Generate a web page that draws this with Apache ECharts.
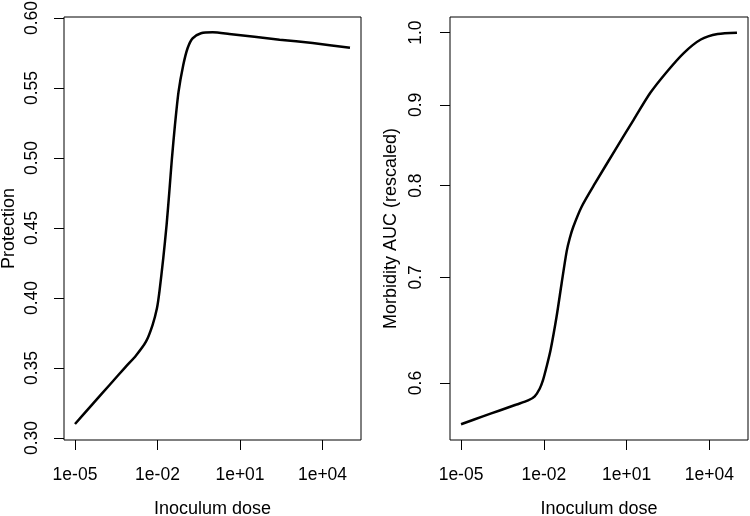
<!DOCTYPE html>
<html>
<head>
<meta charset="utf-8">
<script src="https://cdn.jsdelivr.net/npm/echarts@6/dist/echarts.min.js"></script>
<style>html,body{margin:0;padding:0;background:#fff}#c{width:750px;height:516px}</style>
</head>
<body>
<div id="c"></div>
<script>
// log10 of inoculum dose, left panel
const leftLogDose = [-5.0,-4.37,-3.76,-3.15,-2.787,-2.42,-2.18,-2.02,-1.93,-1.79,-1.67,-1.57,-1.475,-1.365,-1.234,-1.063,-0.906,-0.724,-0.418,0.005,0.61,2.44,3.64,5.0];
const protection = [0.310,0.324,0.3375,0.351,0.3588,0.3688,0.3807,0.3926,0.4045,0.4284,0.4521,0.4759,0.4998,0.5236,0.5474,0.5664,0.5784,0.5855,0.5891,0.5898,0.5886,0.5845,0.5821,0.5788];
// log10 of inoculum dose, right panel
const rightLogDose = [-5.0,-4.21,-3.6,-2.99,-2.57,-2.33,-2.15,-2.03,-1.9,-1.755,-1.537,-1.354,-1.172,-1.06,-0.931,-0.625,-0.14,0.589,1.26,1.86,2.47,3.08,3.69,4.3,5.0];
const morbidity = [0.565,0.5715,0.5765,0.5815,0.585,0.5885,0.595,0.6025,0.6144,0.6296,0.6611,0.694,0.727,0.741,0.7535,0.7761,0.8029,0.843,0.881,0.916,0.945,0.971,0.990,0.998,1.000];

const xTickDoses = [1e-5, 1e-2, 1e1, 1e4];
const xTickLabels = ['1e-05','1e-02','1e+01','1e+04'];
const leftYTicks = [0.30,0.35,0.40,0.45,0.50,0.55,0.60];
const leftYLabels = ['0.30','0.35','0.40','0.45','0.50','0.55','0.60'];
const rightYTicks = [0.6,0.7,0.8,0.9,1.0];
const rightYLabels = ['0.6','0.7','0.8','0.9','1.0'];

const FONT = '"Liberation Sans", Arial, sans-serif';
const xTickPos = xTickDoses.map(d => Math.round(Math.log10(d)));
const rightYPos = rightYTicks.map(v => Math.log10(v));

function xAxis(gi) {
  return {
    type: 'value', gridIndex: gi, min: -5.4, max: 5.4,
    name: 'Inoculum dose', nameLocation: 'middle', nameGap: 60,
    nameTextStyle: {fontFamily: FONT, fontSize: 18, color: '#000'},
    axisLine: {show: false, onZero: false},
    splitLine: {show: false},
    axisTick: {show: true, length: 10, lineStyle: {color: '#000', width: 1}, customValues: xTickPos},
    axisLabel: {fontFamily: FONT, fontSize: 17.5, color: '#000', margin: 26, lineHeight: 18,
      customValues: xTickPos,
      formatter: v => xTickLabels[xTickPos.indexOf(Math.round(v))]}
  };
}

const gridBase = {show: true, borderColor: '#000', borderWidth: 1, backgroundColor: 'transparent',
  containLabel: false, outerBoundsMode: 'none'};

const chart = echarts.init(document.getElementById('c'), null, {renderer: 'canvas'});
chart.setOption({
  animation: false,
  backgroundColor: '#fff',
  grid: [
    Object.assign({left: 64, top: 17, width: 297, height: 423}, gridBase),
    Object.assign({left: 450, top: 17, width: 298, height: 423}, gridBase)
  ],
  xAxis: [xAxis(0), xAxis(1)],
  yAxis: [
    {
      type: 'value', gridIndex: 0, min: 0.29857, max: 0.60071,
      name: 'Protection', nameLocation: 'middle', nameGap: 46,
      nameTextStyle: {fontFamily: FONT, fontSize: 18, color: '#000'},
      axisLine: {show: false, onZero: false}, splitLine: {show: false},
      axisTick: {show: true, length: 10, lineStyle: {color: '#000', width: 1}, customValues: leftYTicks},
      axisLabel: {rotate: 90, fontFamily: FONT, fontSize: 17.5, color: '#000', margin: 23,
        customValues: leftYTicks,
        formatter: v => leftYLabels[leftYTicks.findIndex(t => Math.abs(t - v) < 1e-6)]}
    },
    {
      type: 'value', gridIndex: 1, min: -0.2579, max: 0.0099,
      name: 'Morbidity AUC (rescaled)', nameLocation: 'middle', nameGap: 50,
      nameTextStyle: {fontFamily: FONT, fontSize: 18, color: '#000'},
      axisLine: {show: false, onZero: false}, splitLine: {show: false},
      axisTick: {show: true, length: 10, lineStyle: {color: '#000', width: 1}, customValues: rightYPos},
      axisLabel: {rotate: 90, fontFamily: FONT, fontSize: 17.5, color: '#000', margin: 25,
        customValues: rightYPos,
        formatter: v => rightYLabels[rightYPos.findIndex(t => Math.abs(t - v) < 1e-6)]}
    }
  ],
  series: [
    {type: 'line', xAxisIndex: 0, yAxisIndex: 0, showSymbol: false, smooth: 0.25,
      lineStyle: {color: '#000', width: 2.5},
      data: leftLogDose.map((x, i) => [x, protection[i]])},
    {type: 'line', xAxisIndex: 1, yAxisIndex: 1, showSymbol: false, smooth: 0.25,
      lineStyle: {color: '#000', width: 2.5},
      data: rightLogDose.map((x, i) => [x, Math.log10(morbidity[i])])}
  ]
});
</script>
</body>
</html>
